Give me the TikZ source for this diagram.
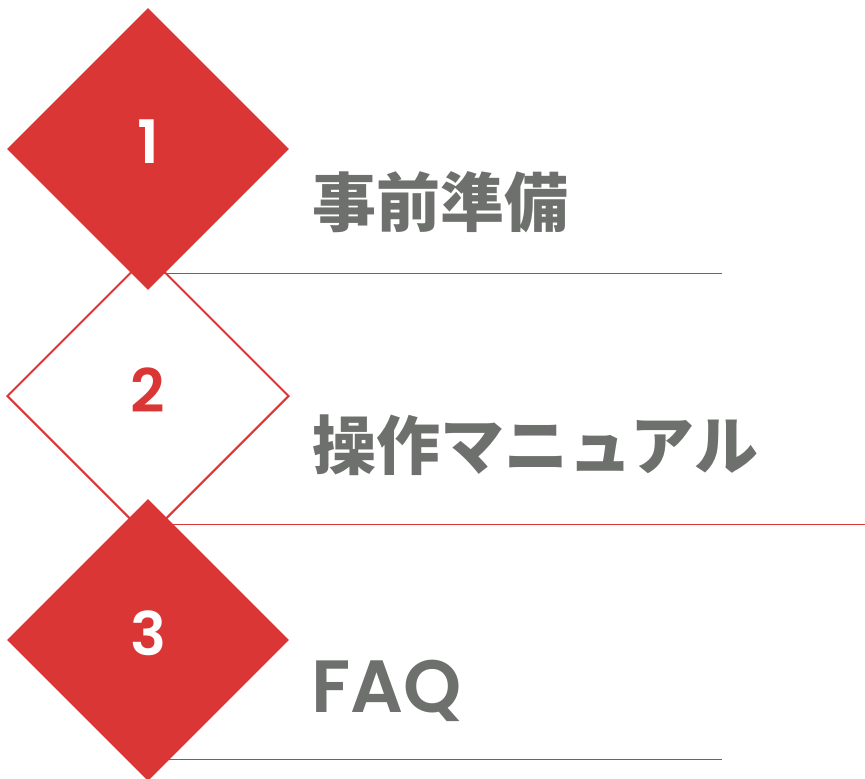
\documentclass[tikz,border=0pt]{standalone}
\usepackage{fontspec}
\usepackage{xcolor}
\usetikzlibrary{shapes.geometric}
\setmainfont{Poppins}
\newfontfamily\popsemi{Poppins SemiBold}
\newfontfamily\cjk{Noto Sans CJK JP}
\definecolor{stepred}{HTML}{DA3635}
\definecolor{titlegray}{HTML}{6E706D}
\tikzset{
  stepdia/.style={diamond, aspect=1, minimum width=282pt, minimum height=282pt, inner sep=0pt},
  numtext/.style={font=\fontsize{60}{60}\popsemi},
  titletext/.style={anchor=west, inner sep=0pt, text=titlegray, font=\fontsize{64}{64}\cjk\bfseries},
  underline/.style={draw=stepred, line width=1pt}
}
\begin{document}
\begin{tikzpicture}[x=1pt,y=-1pt]
\useasboundingbox (0,0) rectangle (865,779);

\draw[underline] (148,273) -- (722,273);
\draw[underline] (148,524) -- (865,524);
\draw[underline] (148,759) -- (722,759);

\node[stepdia, draw=stepred, line width=2pt] (d2) at (148,396) {};
\node[stepdia, fill=stepred] (d1) at (148,149) {};
\node[stepdia, fill=stepred] (d3) at (148,640) {};

\node[numtext, text=white] (n1) at (148,142) {1};
\node[numtext, text=stepred] (n2) at (148,390) {2};
\node[numtext, text=white] (n3) at (148,633) {3};

\node[titletext] (t1) at (312,202) {事前準備};
\node[titletext] (t2) at (312,445) {操作マニュアル};
\node[titletext, font=\fontsize{74}{74}\popsemi] (t3) at (311,691) {FAQ};
\end{tikzpicture}
\end{document}
